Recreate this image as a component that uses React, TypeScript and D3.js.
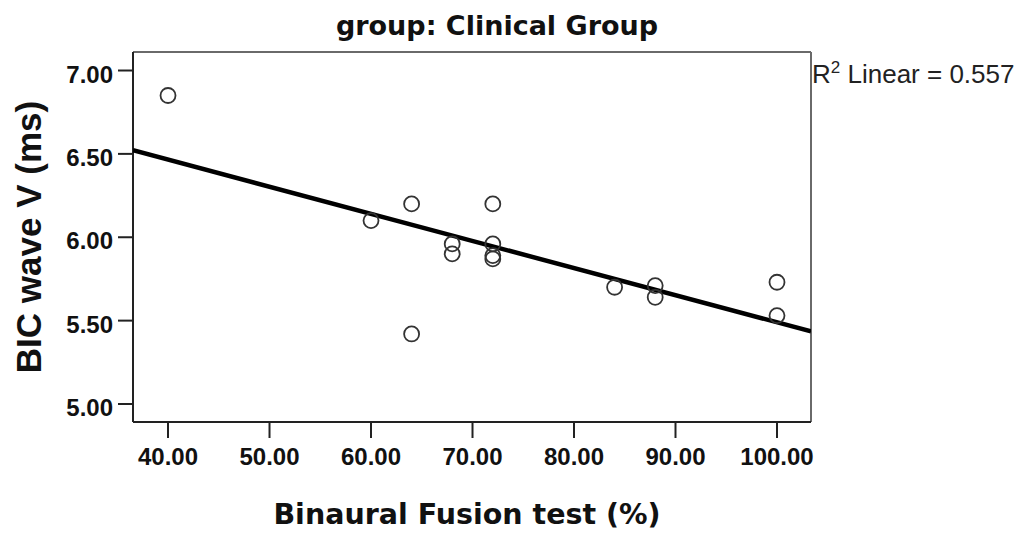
import * as React from 'react'
import * as d3 from 'd3'

const title = 'group: Clinical Group'
const xLabel = 'Binaural Fusion test (%)'
const yLabel = 'BIC wave V (ms)'
const rSquaredText = ' Linear = 0.557'

const fusionScores = [40, 60, 64, 64, 68, 68, 72, 72, 72, 72, 84, 88, 88, 100, 100]
const bicWaveV = [6.85, 6.1, 6.2, 5.42, 5.96, 5.9, 6.2, 5.96, 5.89, 5.87, 5.7, 5.71, 5.64, 5.73, 5.53]

const xTicks = [40, 50, 60, 70, 80, 90, 100]
const yTicks = [5, 5.5, 6, 6.5, 7]

const W = 1021
const H = 536
const plot = { left: 133, right: 811, top: 52, bottom: 422 }

function linearFit(xs: number[], ys: number[]) {
  const mx = d3.mean(xs) ?? 0
  const my = d3.mean(ys) ?? 0
  let sxy = 0
  let sxx = 0
  xs.forEach((x, i) => {
    sxy += (x - mx) * (ys[i] - my)
    sxx += (x - mx) * (x - mx)
  })
  const slope = sxy / sxx
  return { slope, intercept: my - slope * mx }
}

export default function App() {
  const x = d3.scaleLinear().domain([36.55, 103.35]).range([plot.left, plot.right])
  const y = d3.scaleLinear().domain([4.892, 7.111]).range([plot.bottom, plot.top])

  const fit = linearFit(fusionScores, bicWaveV)
  const [x0, x1] = x.domain()
  const fitLine = d3
    .line<number>()
    .x((d) => x(d))
    .y((d) => y(fit.intercept + fit.slope * d))([x0, x1])

  const fmt = d3.format('.2f')
  const axisColor = '#222'

  return (
    <svg
      width={W}
      height={H}
      style={{ position: 'absolute', left: 0, top: 0, background: '#fff' }}
    >
      <defs>
        <clipPath id="plotClip">
          <rect x={plot.left} y={plot.top} width={plot.right - plot.left} height={plot.bottom - plot.top} />
        </clipPath>
      </defs>

      {/* frame: top & right are lighter */}
      <line x1={plot.left} x2={plot.right} y1={plot.top} y2={plot.top} stroke="#6a6a6a" strokeWidth={2} />
      <line x1={plot.right} x2={plot.right} y1={plot.top} y2={plot.bottom} stroke="#6a6a6a" strokeWidth={2} />
      <line x1={plot.left} x2={plot.right} y1={plot.bottom} y2={plot.bottom} stroke={axisColor} strokeWidth={2} />
      <line x1={plot.left} x2={plot.left} y1={plot.top} y2={plot.bottom} stroke={axisColor} strokeWidth={2} />

      {/* y ticks */}
      {yTicks.map((t) => (
        <g key={t}>
          <line x1={plot.left - 15} x2={plot.left} y1={y(t)} y2={y(t)} stroke={axisColor} strokeWidth={2} />
          <text
            x={plot.left - 20}
            y={y(t) + 12}
            textAnchor="end"
            fontFamily="'Liberation Sans', Arial, sans-serif"
            fontWeight="bold"
            fontSize={24}
            fill="#111"
          >
            {fmt(t)}
          </text>
        </g>
      ))}

      {/* x ticks */}
      {xTicks.map((t) => (
        <g key={t}>
          <line x1={x(t)} x2={x(t)} y1={plot.bottom} y2={plot.bottom + 16} stroke={axisColor} strokeWidth={2} />
          <text
            x={x(t)}
            y={465}
            textAnchor="middle"
            fontFamily="'Liberation Sans', Arial, sans-serif"
            fontWeight="bold"
            fontSize={24}
            fill="#111"
          >
            {fmt(t)}
          </text>
        </g>
      ))}

      {/* regression line */}
      <path d={fitLine ?? ''} stroke="#000" strokeWidth={4.5} fill="none" clipPath="url(#plotClip)" />

      {/* points */}
      {fusionScores.map((v, i) => (
        <circle key={i} cx={x(v)} cy={y(bicWaveV[i])} r={7.5} fill="none" stroke="#333" strokeWidth={1.8} />
      ))}

      <text
        x={812}
        y={83}
        fontFamily="'Liberation Sans', Arial, sans-serif"
        fontSize={26}
        fill="#222"
      >
        R<tspan dy={-10} fontSize={17}>2</tspan>
        <tspan dy={10}>{rSquaredText}</tspan>
      </text>

      <text
        x={497}
        y={35}
        textAnchor="middle"
        fontFamily="'DejaVu Sans', Verdana, sans-serif"
        fontWeight="bold"
        fontSize={27}
        fill="#111"
      >
        {title}
      </text>

      <text
        x={467}
        y={524}
        textAnchor="middle"
        fontFamily="'DejaVu Sans', Verdana, sans-serif"
        fontWeight="bold"
        fontSize={28.5}
        fill="#111"
      >
        {xLabel}
      </text>

      <text
        transform={`translate(41,237) rotate(-90)`}
        textAnchor="middle"
        fontFamily="'Liberation Sans', Arial, sans-serif"
        fontWeight="bold"
        fontSize={35}
        fill="#111"
      >
        {yLabel}
      </text>
    </svg>
  )
}
